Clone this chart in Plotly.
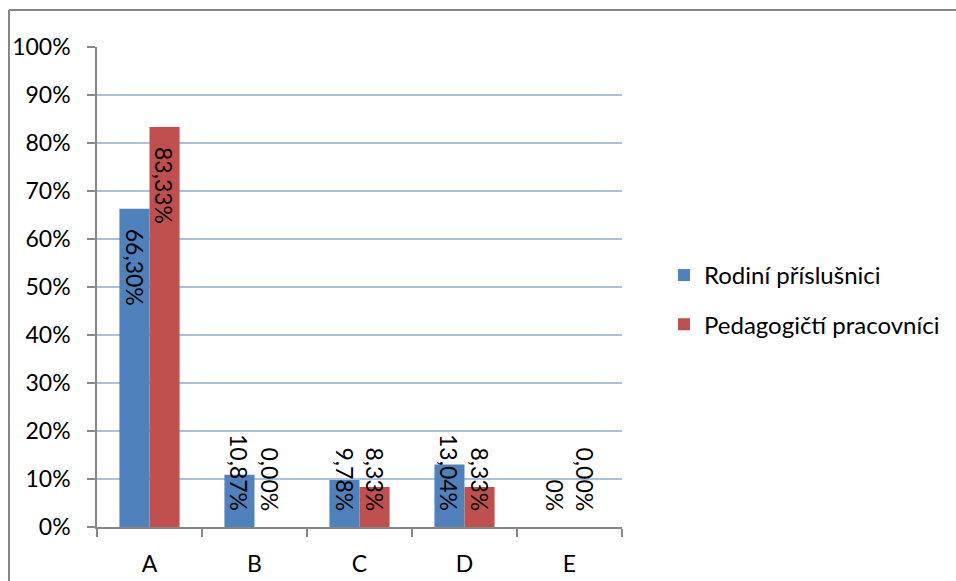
import plotly.graph_objects as go

categories = ["A", "B", "C", "D", "E"]
rodini = [66.30, 10.87, 9.78, 13.04, 0.0]
pedagog = [83.33, 0.0, 8.33, 8.33, 0.0]
rodini_labels = ["66,30%", "10,87%", "9,78%", "13,04%", "0%"]
pedagog_labels = ["83,33%", "0,00%", "8,33%", "8,33%", "0,00%"]
y_ticks = [0, 10, 20, 30, 40, 50, 60, 70, 80, 90, 100]
y_ticktext = [f"{v}%" for v in y_ticks]

FONT = "Lato"
FS = 23
BLUE = "#4f81bd"
RED = "#c0504d"
AXIS = "#868686"
GRID = "#a9c1df"

fig = go.Figure()
fig.add_trace(go.Bar(x=categories, y=rodini, name="Rodiní příslušnici",
                     marker=dict(color=BLUE, line=dict(width=0)), legendgroup="a"))
fig.add_trace(go.Bar(x=categories, y=pedagog, name="Pedagogičtí pracovníci",
                     marker=dict(color=RED, line=dict(width=0)), legendgroup="b"))

annotations = []
for vals, labs, shift in ((rodini, rodini_labels, -15), (pedagog, pedagog_labels, 15)):
    for c, v, t in zip(categories, vals, labs):
        if v >= 30:
            annotations.append(dict(x=c, y=v, xref="x", yref="y", text=t, textangle=90,
                                    showarrow=False, yanchor="top", yshift=-18, xshift=shift,
                                    font=dict(family=FONT, size=FS, color="black")))
        else:
            annotations.append(dict(x=c, y=0, xref="x", yref="y", text=t, textangle=90,
                                    showarrow=False, yanchor="bottom", yshift=14, xshift=shift,
                                    font=dict(family=FONT, size=FS, color="black")))

shapes = [
    dict(type="line", xref="paper", yref="paper", x0=-0.1676, x1=1.8, y0=1.077, y1=1.077,
         line=dict(color=AXIS, width=2)),
    dict(type="line", xref="paper", yref="paper", x0=-0.1676, x1=-0.1676, y0=-0.2, y1=1.077,
         line=dict(color=AXIS, width=2)),
]

fig.update_layout(
    width=956, height=581,
    margin=dict(l=97, r=334, t=47, b=54, autoexpand=False),
    paper_bgcolor="white", plot_bgcolor="white",
    barmode="group", bargap=0.427, bargroupgap=0,
    font=dict(family=FONT, size=FS, color="black"),
    showlegend=True,
    legend=dict(x=1.08, y=0.473, xanchor="left", yanchor="middle",
                font=dict(family=FONT, size=24, color="black"),
                tracegroupgap=15, itemwidth=30, traceorder="grouped"),
    annotations=annotations,
    shapes=shapes,
)
fig.update_yaxes(range=[0, 100], tickvals=y_ticks, ticktext=y_ticktext,
                 showgrid=True, gridcolor=GRID, gridwidth=1.5,
                 showline=True, linecolor=AXIS, linewidth=1.5,
                 ticks="outside", ticklen=8, tickcolor=AXIS, tickwidth=1.5,
                 ticklabelstandoff=12, zeroline=False, fixedrange=True, automargin=False)
fig.update_xaxes(showline=True, linecolor=AXIS, linewidth=1.5,
                 ticks="outside", ticklen=8, tickcolor=AXIS, tickwidth=1.5,
                 tickson="boundaries", ticklabelstandoff=16, showgrid=False, automargin=False)

fig.write_html("out.html", config={"displayModeBar": False},
               post_script="document.body.style.margin='0';document.body.style.overflow='hidden';")
